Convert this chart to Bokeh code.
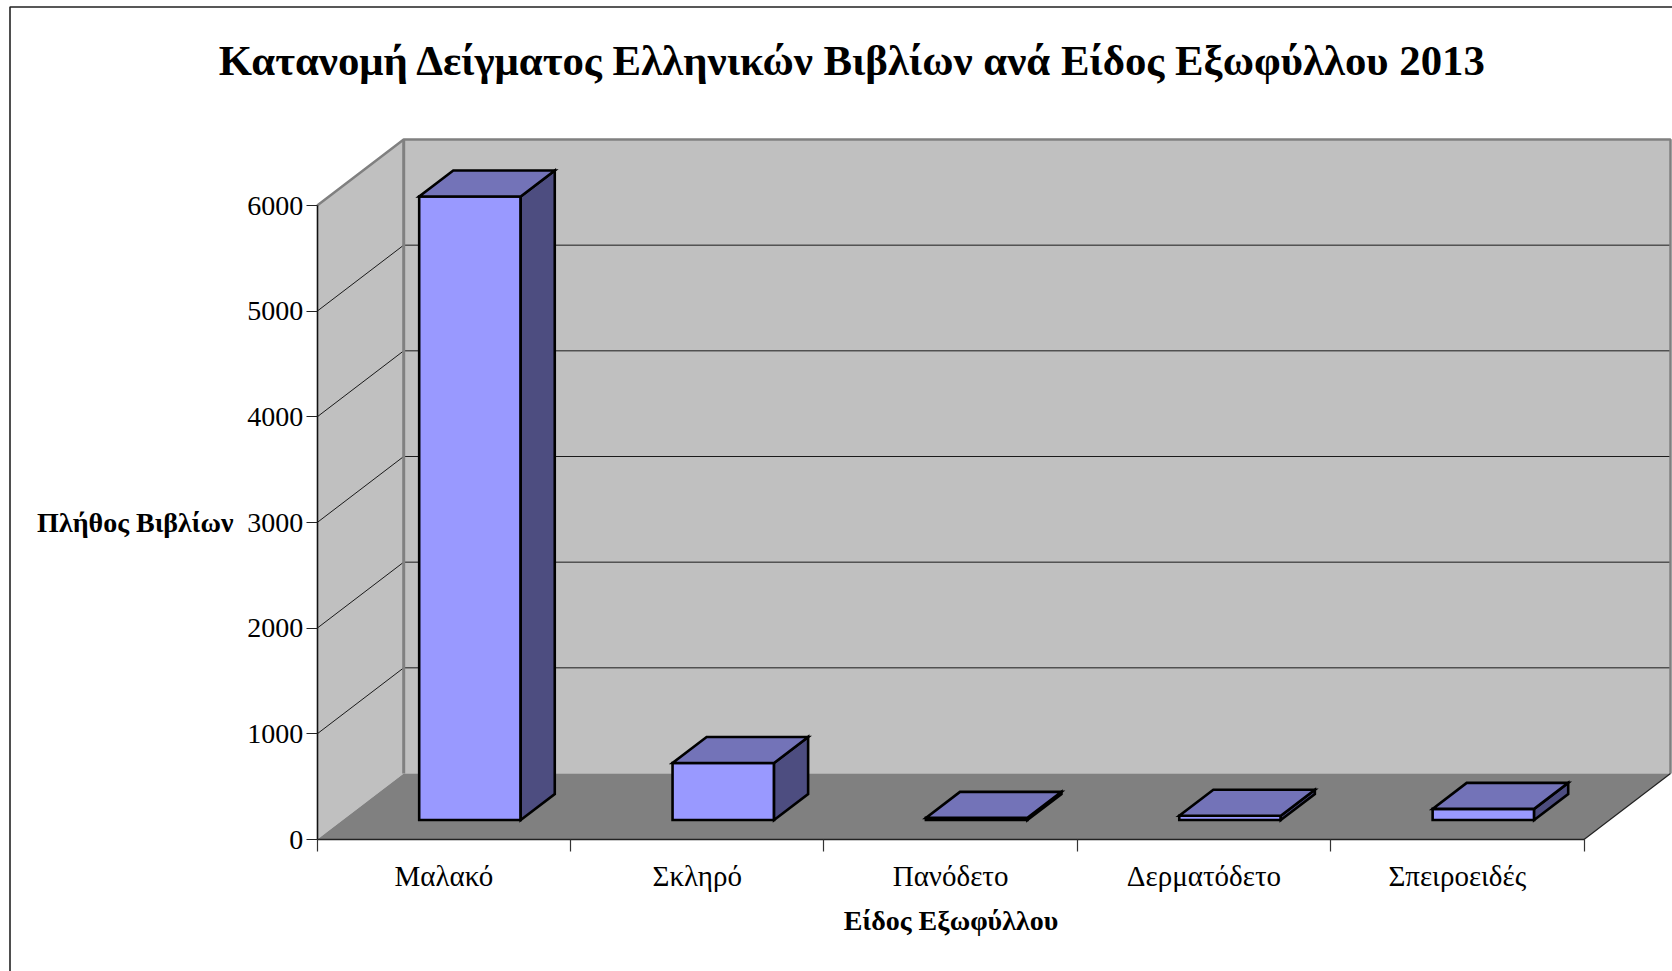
from bokeh.plotting import figure
from bokeh.models import LinearAxis, FixedTicker, Label, Range1d, BoxAnnotation
from bokeh.embed import file_html
from bokeh.resources import INLINE

categories = ["Μαλακό", "Σκληρό", "Πανόδετο", "Δερματόδετο", "Σπειροειδές"]
counts = [5900, 540, 20, 40, 105]
y_ticks = [0, 1000, 2000, 3000, 4000, 5000, 6000]
title_text = "Κατανομή Δείγματος Ελληνικών Βιβλίων ανά Είδος Εξωφύλλου 2013"
x_title = "Είδος Εξωφύλλου"
y_title = "Πλήθος Βιβλίων"

W, H = 1672, 971
X0, XSTEP = 316.7, 253.36      # px of x=0, px per category
Y0, YSCALE = 839.0, 634.0 / 6000   # px of y=0, px per unit
FONT = "Liberation Serif"


def X(px):
    return (px - X0) / XSTEP


def Y(py):
    return (Y0 - py) / YSCALE


DX = 86.5 / XSTEP     # chart depth, in x units
DY = 66.0 / YSCALE    # chart depth, in y units
F_FRONT, F_BACK = 19.5 / 66, 45.5 / 66
BAR_W = 101.5 / XSTEP
N = len(categories)
YMAX = y_ticks[-1]

p = figure(width=W, height=H, x_range=Range1d(X(0), X(W)), y_range=Range1d(Y(H), Y(0)),
           output_backend="svg", toolbar_location=None, min_border=0, x_axis_type=None, y_axis_type=None)
p.styles = {"position": "absolute", "left": "0px", "top": "0px"}
p.xgrid.visible = False
p.ygrid.visible = False
p.outline_line_color = None
p.background_fill_color = "white"

# walls and floor
p.patch([0, DX, DX, 0], [0, DY, YMAX + DY, YMAX], fill_color="#c0c0c0", line_color=None)
p.patch([DX, N + DX, N + DX, DX], [DY, DY, YMAX + DY, YMAX + DY], fill_color="#c0c0c0", line_color=None)
p.patch([0, N, N + DX, DX], [0, 0, DY, DY], fill_color="#808080", line_color=None)

# gridlines
for v in y_ticks[1:-1]:
    p.line([0, DX, N + DX], [v, v + DY, v + DY], line_color="#1a1a1a", line_width=1)

# wall edges
p.line([0, DX, N + DX, N + DX], [YMAX, YMAX + DY, YMAX + DY, DY], line_color="#808080", line_width=2.5)
p.line([DX, DX], [DY, YMAX + DY], line_color="#808080", line_width=3)
p.line([N, N + DX], [0, DY], line_color="#222222", line_width=1.2)

# bars
for i, v in enumerate(counts):
    xl = i + 0.5 + DX * F_FRONT - BAR_W / 2 + 0.5 / XSTEP
    xr = xl + BAR_W
    b0 = DY * F_FRONT
    ddx = DX * (F_BACK - F_FRONT)
    ddy = DY * (F_BACK - F_FRONT)
    kw = dict(line_color="black", line_width=2.6, line_join="miter")
    p.patch([xl, xr, xr, xl], [b0, b0, b0 + v, b0 + v], fill_color="#9999ff", **kw)
    p.patch([xr, xr + ddx, xr + ddx, xr], [b0, b0 + ddy, b0 + ddy + v, b0 + v], fill_color="#4d4d80", **kw)
    p.patch([xl, xr, xr + ddx, xl + ddx], [b0 + v, b0 + v, b0 + ddy + v, b0 + ddy + v], fill_color="#7373b8", **kw)

# axes
yax = LinearAxis(fixed_location=0, bounds=(0, YMAX), ticker=FixedTicker(ticks=y_ticks))
yax.axis_line_color = "#111111"
yax.axis_line_width = 1.6
yax.major_tick_line_color = "#222222"
yax.major_tick_line_width = 1.2
yax.major_tick_out = 11
yax.major_tick_in = 0
yax.minor_tick_line_color = None
yax.major_label_text_font = FONT
yax.major_label_text_font_size = "28px"
yax.major_label_text_color = "black"
yax.major_label_standoff = 3
yax.axis_label = y_title
yax.axis_label_orientation = "horizontal"
yax.axis_label_text_font = FONT
yax.axis_label_text_font_style = "bold"
yax.axis_label_text_font_size = "28px"
yax.axis_label_text_color = "black"
yax.axis_label_standoff = 11
p.add_layout(yax, "left")

xax = LinearAxis(fixed_location=0, bounds=(0, N),
                 ticker=FixedTicker(ticks=[i + 0.5 for i in range(N)], minor_ticks=list(range(N + 1))))
xax.major_label_overrides = {i + 0.5: c for i, c in enumerate(categories)}
xax.axis_line_color = "#222222"
xax.axis_line_width = 1.6
xax.major_tick_line_color = None
xax.major_tick_out = 0
xax.major_tick_in = 0
xax.minor_tick_line_color = "#333333"
xax.minor_tick_line_width = 1.2
xax.minor_tick_out = 12
xax.minor_tick_in = 0
xax.major_label_text_font = FONT
xax.major_label_text_font_size = "29px"
xax.major_label_text_color = "black"
xax.major_label_standoff = 8
xax.axis_label = x_title
xax.axis_label_text_font = FONT
xax.axis_label_text_font_style = "bold"
xax.axis_label_text_font_size = "28px"
xax.axis_label_text_color = "black"
xax.axis_label_standoff = 10
p.add_layout(xax, "below")

# chart title and outer frame
p.add_layout(Label(x=X(852.5), y=Y(60), text=title_text, text_align="center", text_baseline="alphabetic",
                   text_font=FONT, text_font_style="bold", text_font_size="42.8px", text_color="black"))
p.add_layout(BoxAnnotation(left=X(9.5), right=X(W + 50), top=Y(6.5), bottom=Y(H + 50), fill_alpha=0,
                           line_color="#222222", line_alpha=1, line_width=1.6))

open("out.html", "w").write(file_html(p, INLINE))
